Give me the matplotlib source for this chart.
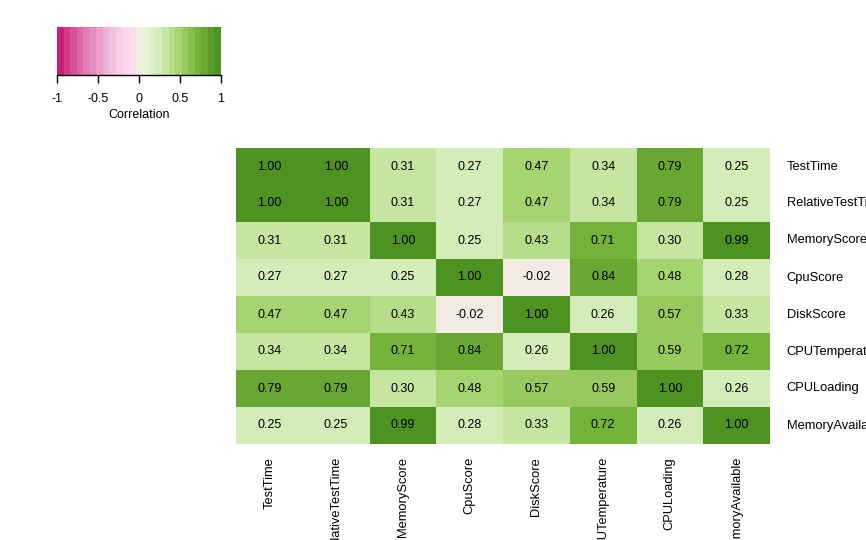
import numpy as np
import matplotlib
matplotlib.use("Agg")
import matplotlib.pyplot as plt
from matplotlib.colors import ListedColormap, BoundaryNorm

plt.rcParams['font.family'] = ['Liberation Sans', 'DejaVu Sans']

# variables and correlation values
names = ["TestTime", "RelativeTestTime", "MemoryScore", "CpuScore",
         "DiskScore", "CPUTemperature", "CPULoading", "MemoryAvailable"]
corr = np.array([
    [1.00, 1.00, 0.31, 0.27, 0.47, 0.34, 0.79, 0.25],
    [1.00, 1.00, 0.31, 0.27, 0.47, 0.34, 0.79, 0.25],
    [0.31, 0.31, 1.00, 0.25, 0.43, 0.71, 0.30, 0.99],
    [0.27, 0.27, 0.25, 1.00, -0.02, 0.838, 0.48, 0.278],
    [0.47, 0.47, 0.43, -0.02, 1.00, 0.26, 0.57, 0.33],
    [0.34, 0.34, 0.71, 0.838, 0.26, 1.00, 0.59, 0.72],
    [0.79, 0.79, 0.30, 0.48, 0.57, 0.59, 1.00, 0.26],
    [0.25, 0.25, 0.99, 0.278, 0.33, 0.72, 0.26, 1.00],
])
cbar_ticks = [-1, -0.5, 0, 0.5, 1]
cbar_labels = ["-1", "-0.5", "0", "0.5", "1"]

# 25 colour steps, pink -> beige -> green
steps = ["#c81e7e", "#d23a8e", "#d9519a", "#dd68a8", "#e27cb3", "#e58dbd",
         "#eb9fc8", "#efb1d3", "#f2c0db", "#f7cde3", "#fbd9ea", "#fce0ee",
         "#f2ebe3",
         "#e8f2d6", "#ddf0c8", "#d4edb8", "#c5e5a0", "#b6de8a", "#a5d471",
         "#97c95e", "#86bf4c", "#74b33a", "#68a832", "#5a9d2a", "#4e9222"]
cmap = ListedColormap(steps)
bounds = np.linspace(-1, 1, len(steps) + 1)
norm = BoundaryNorm(bounds, cmap.N)

fig = plt.figure(figsize=(8.66, 5.4), dpi=100)

# heatmap
ax = fig.add_axes([236/866, 96/540, 534/866, 296/540])
n = len(names)
ax.pcolormesh(np.arange(n + 1), np.arange(n + 1), corr, cmap=cmap, norm=norm)
ax.set_xlim(0, n)
ax.set_ylim(n, 0)
ax.axis("off")
for i in range(n):
    for j in range(n):
        ax.text(j + 0.5, i + 0.5, "%.2f" % corr[i, j], ha="center", va="center",
                fontsize=9, color="black")
    # row labels on the right
    ax.text(n + 0.25, i + 0.5, names[i], ha="left", va="center", fontsize=9.3,
            clip_on=False)
    # column labels below
    ax.text(i + 0.5, n + 0.35, names[i], ha="center", va="top", rotation=90,
            fontsize=9.3, clip_on=False)

# colour key
cax = fig.add_axes([57/866, 465/540, 164/866, 48/540])
cax.pcolormesh(bounds, [0, 1], ((bounds[:-1] + bounds[1:]) / 2).reshape(1, -1),
               cmap=cmap, norm=norm)
cax.set_xlim(-1, 1)
cax.set_ylim(0, 1)
for s in ["top", "left", "right"]:
    cax.spines[s].set_visible(False)
cax.spines["bottom"].set_linewidth(1)
cax.set_yticks([])
cax.set_xticks(cbar_ticks)
cax.set_xticklabels(cbar_labels, fontsize=9)
cax.tick_params(axis="x", length=6, width=1, pad=7)
cax.set_xlabel("Correlation", fontsize=9, labelpad=3)

fig.savefig("out.png", dpi=100)
